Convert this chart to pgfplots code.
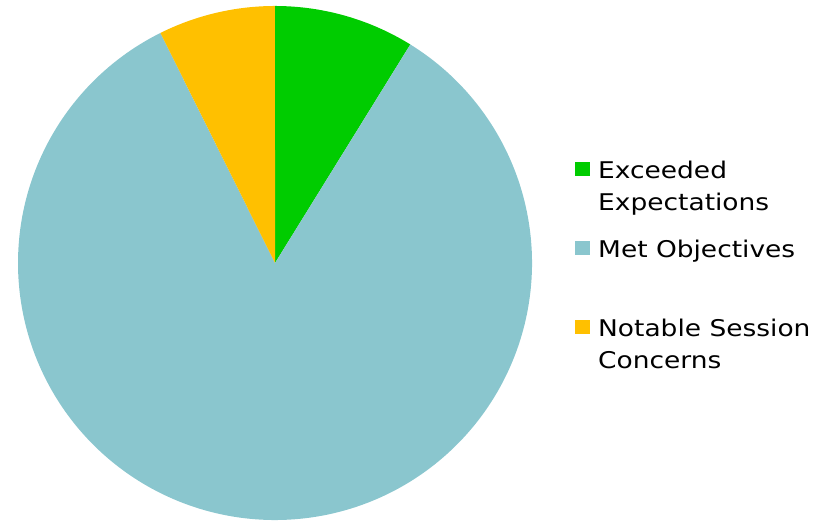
\documentclass[border=0pt]{standalone}
\usepackage{fontspec}
\setmainfont{DejaVu Sans}
\newfontfamily\legfont[FakeStretch=1.15]{DejaVu Sans}
\usepackage{pgfplots}
\usepackage{pgfplotstable}
\pgfplotsset{compat=1.18}
\definecolor{cA}{HTML}{00CC00}
\definecolor{cB}{HTML}{8AC6CE}
\definecolor{cC}{HTML}{FFC000}
\pgfplotstableread{
label value
Exceeded 6
Met 57
Notable 5
}\pietable
\pgfplotstablegetelem{0}{value}\of\pietable \let\va\pgfplotsretval
\pgfplotstablegetelem{1}{value}\of\pietable \let\vb\pgfplotsretval
\pgfplotstablegetelem{2}{value}\of\pietable \let\vc\pgfplotsretval
\pgfmathsetmacro\tot{\va+\vb+\vc}
\pgfmathsetmacro\aA{90}
\pgfmathsetmacro\aB{90-360*(\va/\tot)}
\pgfmathsetmacro\aC{\aB-360*(\vb/\tot)}
\pgfmathsetmacro\aD{\aC-360*(\vc/\tot)}
\begin{document}
\begin{tikzpicture}
\begin{axis}[
  hide axis, scale only axis, width=514pt, height=514pt,
  xmin=-1, xmax=1, ymin=-1, ymax=1, clip=false,
  legend image code/.code={\fill[#1] (0pt,10.5pt) rectangle (15pt,25pt);},
  legend style={at={(axis cs:1.167,0.405)}, anchor=north west, draw=none, fill=none,
    inner sep=0pt, font=\legfont\fontsize{23}{32}\selectfont,
    cells={anchor=west, align=left}, row sep=24pt, column sep=6pt},
]
\addplot[fill=cA, draw=none, domain=\aB:\aA, samples=40] ({cos(x)},{sin(x)}) -- (axis cs:0,0) -- cycle;
\addlegendentry{Exceeded\\Expectations}
\addplot[fill=cB, draw=none, domain=\aC:\aB, samples=240] ({cos(x)},{sin(x)}) -- (axis cs:0,0) -- cycle;
\addlegendentry{Met Objectives\\\strut}
\addplot[fill=cC, draw=none, domain=\aD:\aC, samples=40] ({cos(x)},{sin(x)}) -- (axis cs:0,0) -- cycle;
\addlegendentry{Notable Session\\Concerns}
\path (axis cs:-1.07,-1) rectangle (axis cs:2.132,1.0233);
\end{axis}
\end{tikzpicture}
\end{document}
